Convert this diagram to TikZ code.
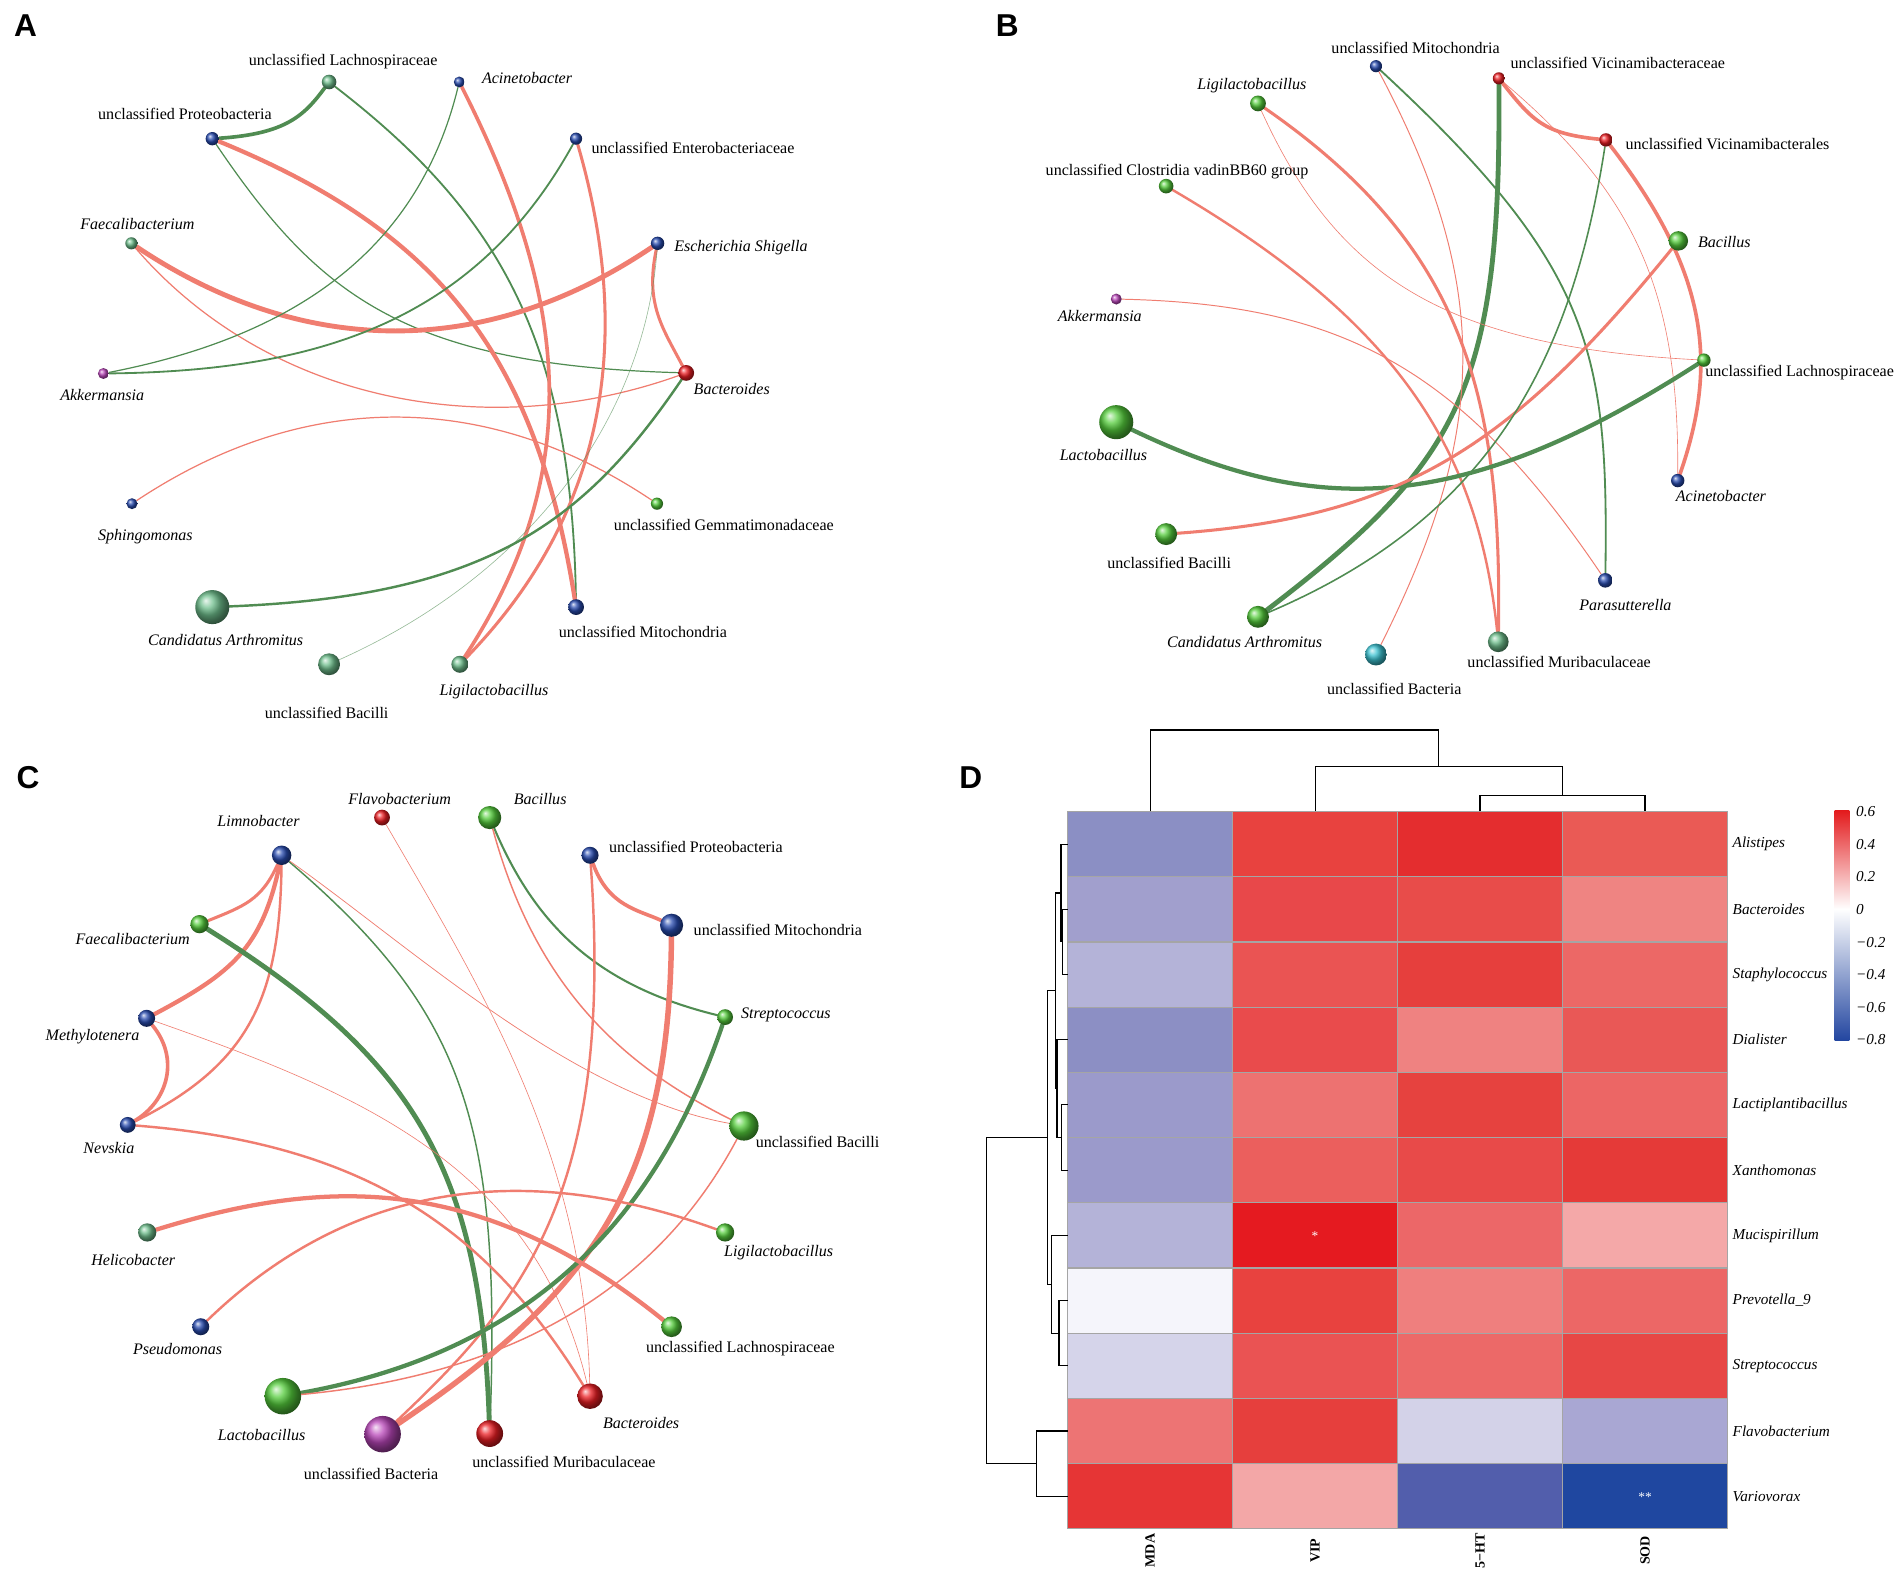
\documentclass[tikz,border=0pt]{standalone}
\usepackage{fontspec}
\setmainfont{Liberation Serif}
\newfontfamily\panelfont{Liberation Sans}
\usetikzlibrary{backgrounds}
\definecolor{ered}{RGB}{240,125,112}
\definecolor{egreen}{RGB}{80,140,82}
\definecolor{cblue}{RGB}{40,75,175}
\definecolor{csea}{RGB}{110,190,140}
\definecolor{cgreen}{RGB}{85,205,60}
\definecolor{cred}{RGB}{235,30,35}
\definecolor{cpurple}{RGB}{185,70,185}
\definecolor{ccyan}{RGB}{60,195,210}
\definecolor{gridgrey}{RGB}{165,165,165}
\definecolor{cbtop}{RGB}{227,26,28}
\definecolor{cbbot}{RGB}{35,70,160}
\begin{document}
\begin{tikzpicture}[x=1pt,y=-1pt,
  nblue/.style={circle,inner sep=0pt,minimum size=#1,ball color=cblue},
  nsea/.style={circle,inner sep=0pt,minimum size=#1,ball color=csea},
  ngreen/.style={circle,inner sep=0pt,minimum size=#1,ball color=cgreen},
  nred/.style={circle,inner sep=0pt,minimum size=#1,ball color=cred},
  npurple/.style={circle,inner sep=0pt,minimum size=#1,ball color=cpurple},
  ncyan/.style={circle,inner sep=0pt,minimum size=#1,ball color=ccyan},
  redge/.style={draw=ered,line width=#1,line cap=round},
  gedge/.style={draw=egreen,line width=#1,line cap=round},
  lab/.style={inner sep=0pt,font=\fontsize{13.2}{15}\selectfont},
  labi/.style={inner sep=0pt,font=\fontsize{13.2}{15}\selectfont\itshape},
  hlab/.style={inner sep=0pt,anchor=west,font=\fontsize{12.5}{14}\selectfont\itshape},
  clab/.style={inner sep=0pt,rotate=90,font=\fontsize{11.5}{13}\selectfont\bfseries},
  plab/.style={inner sep=0pt,font=\fontsize{26}{28}\selectfont\panelfont\bfseries},
  dendro/.style={draw=black,line width=0.9pt},
  cell/.style={draw=gridgrey,line width=1pt}
]
\useasboundingbox (0,0) rectangle (1565,1298);

% ---------------- panel letters
\node[plab] (pA) at (21,21) {A};
\node[plab] (pB) at (828,21) {B};
\node[plab] (pC) at (23,639) {C};
\node[plab] (pD) at (798,639) {D};

% ---------------- Panel A nodes
\node[nsea=12] (aLach) at (270.5,67.4) {};
\node[nblue=9] (aAcin) at (377.5,67.4) {};
\node[nblue=11] (aProt) at (174.5,114) {};
\node[nblue=10] (aEnt) at (473.5,114) {};
\node[nsea=10] (aFae) at (108,200) {};
\node[nblue=11] (aEsc) at (540.5,200) {};
\node[npurple=9] (aAkk) at (85,307) {};
\node[nred=13] (aBac) at (564,306.5) {};
\node[nblue=9] (aSph) at (108.5,414) {};
\node[ngreen=10] (aGem) at (540,414) {};
\node[nsea=28] (aCan) at (174.5,499) {};
\node[nblue=13] (aMit) at (473.5,499) {};
\node[nsea=18] (aBcl) at (270.5,546) {};
\node[nsea=14] (aLig) at (378,546) {};

\node[lab] (aLachL) at (282,50.6) {unclassified Lachnospiraceae};
\node[labi,anchor=west] (aAcinL) at (396,64) {Acinetobacter};
\node[lab] (aProtL) at (152,93.5) {unclassified Proteobacteria};
\node[lab,anchor=west] (aEntL) at (486,121.8) {unclassified Enterobacteriaceae};
\node[labi] (aFaeL) at (113,184) {Faecalibacterium};
\node[labi,anchor=west] (aEscL) at (554,203.4) {Escherichia Shigella};
\node[labi] (aAkkL) at (84,325) {Akkermansia};
\node[labi,anchor=west] (aBacL) at (570,319.5) {Bacteroides};
\node[labi] (aSphL) at (119.5,441.4) {Sphingomonas};
\node[lab] (aGemL) at (595,431.5) {unclassified Gemmatimonadaceae};
\node[labi] (aCanL) at (185.5,525.7) {Candidatus Arthromitus};
\node[lab] (aMitL) at (528.5,519) {unclassified Mitochondria};
\node[lab] (aBclL) at (268.5,586.2) {unclassified Bacilli};
\node[labi] (aLigL) at (406,568.2) {Ligilactobacillus};

% ---------------- Panel B nodes
\node[nblue=10] (bMit) at (1131,54.4) {};
\node[nred=10] (bVce) at (1232,64.4) {};
\node[ngreen=13] (bLig) at (1034,85) {};
\node[nred=11] (bVls) at (1320,115) {};
\node[ngreen=12] (bClo) at (958.5,153) {};
\node[ngreen=16] (bBcs) at (1379.5,198) {};
\node[npurple=9] (bAkk) at (917.5,245.8) {};
\node[ngreen=11] (bLac) at (1400.5,296) {};
\node[ngreen=28] (bLcb) at (917.5,347) {};
\node[nblue=11] (bAci) at (1379,395) {};
\node[ngreen=18] (bBcl) at (958.5,439) {};
\node[nblue=12] (bPar) at (1319.5,477) {};
\node[ngreen=18] (bCan) at (1034,507) {};
\node[ncyan=18] (bBct) at (1131,538) {};
\node[nsea=17] (bMur) at (1231.5,527.5) {};

\node[lab] (bMitL) at (1163.5,39) {unclassified Mitochondria};
\node[lab,anchor=west] (bVceL) at (1241.5,52) {unclassified Vicinamibacteraceae};
\node[labi] (bLigL) at (1029,70) {Ligilactobacillus};
\node[lab,anchor=west] (bVlsL) at (1336,118) {unclassified Vicinamibacterales};
\node[lab] (bCloL) at (967.5,140.7) {unclassified Clostridia vadinBB60 group};
\node[labi,anchor=west] (bBcsL) at (1395.5,199) {Bacillus};
\node[labi] (bAkkL) at (904,260) {Akkermansia};
\node[lab,anchor=west] (bLacL) at (1401.5,306) {unclassified Lachnospiraceae};
\node[labi] (bLcbL) at (907,374) {Lactobacillus};
\node[labi] (bAciL) at (1414.5,408) {Acinetobacter};
\node[lab] (bBclL) at (961,463) {unclassified Bacilli};
\node[labi] (bParL) at (1336,497) {Parasutterella};
\node[labi] (bCanL) at (1023,528) {Candidatus Arthromitus};
\node[lab] (bBctL) at (1146,566) {unclassified Bacteria};
\node[lab] (bMurL) at (1281.5,544) {unclassified Muribaculaceae};

% ---------------- Panel C nodes
\node[nred=13] (cFla) at (314,672) {};
\node[ngreen=19] (cBcs) at (402.5,672) {};
\node[nblue=16] (cLim) at (231.5,703) {};
\node[nblue=14] (cPro) at (485,703) {};
\node[ngreen=15] (cFae) at (164,759.6) {};
\node[nblue=19] (cMit) at (552,760.5) {};
\node[nblue=14] (cMet) at (120.5,837) {};
\node[ngreen=13] (cStr) at (596,836) {};
\node[nblue=13] (cNev) at (105,924.6) {};
\node[ngreen=24] (cBcl) at (611.5,925.5) {};
\node[nsea=15] (cHel) at (121,1013) {};
\node[ngreen=15] (cLig) at (596,1013) {};
\node[nblue=14] (cPse) at (165,1090.5) {};
\node[ngreen=17] (cLac) at (552,1090.5) {};
\node[ngreen=30] (cLcb) at (232.5,1147.6) {};
\node[npurple=30] (cBct) at (314.5,1178.8) {};
\node[nred=22] (cMur) at (402.5,1178.3) {};
\node[nred=21] (cBac) at (485,1147.6) {};

\node[labi] (cFlaL) at (328.5,656.6) {Flavobacterium};
\node[labi] (cBcsL) at (444,656.6) {Bacillus};
\node[labi] (cLimL) at (212.5,674.5) {Limnobacter};
\node[lab,anchor=west] (cProL) at (500.5,696.3) {unclassified Proteobacteria};
\node[labi] (cFaeL) at (109,771.7) {Faecalibacterium};
\node[lab,anchor=west] (cMitL) at (570,764.5) {unclassified Mitochondria};
\node[labi] (cMetL) at (76,852) {Methylotenera};
\node[labi,anchor=west] (cStrL) at (609,834.5) {Streptococcus};
\node[labi] (cNevL) at (89.5,943.8) {Nevskia};
\node[lab,anchor=west] (cBclL) at (621,939) {unclassified Bacilli};
\node[labi] (cHelL) at (109.5,1036) {Helicobacter};
\node[labi] (cLigL) at (640,1030) {Ligilactobacillus};
\node[labi] (cPseL) at (146,1108.8) {Pseudomonas};
\node[lab] (cLacL) at (608.5,1108.8) {unclassified Lachnospiraceae};
\node[labi] (cLcbL) at (215,1179.7) {Lactobacillus};
\node[lab] (cBctL) at (305,1211.8) {unclassified Bacteria};
\node[lab] (cMurL) at (463.5,1201.5) {unclassified Muribaculaceae};
\node[labi] (cBacL) at (527,1169.4) {Bacteroides};

% ---------------- Panel D heatmap
\foreach \r/\ca/\cb/\cc/\cd in {0/8B8FC4/E8423F/E42D2F/EA5A55, 1/A19FCD/E8484A/E84C4A/EF8482, 2/B4B3D8/EA5453/E63F3D/EC6866, 3/8C8FC4/E94B4C/EF8281/E95856, 4/9B9ACB/ED7271/E6423F/EC6665, 5/9B9ACB/EB5F5D/E84A49/E53A38, 6/B4B3D8/E51A20/EC6768/F4A8A8, 7/F5F5FB/E8423F/EF7F7E/EC6766, 8/D5D4EA/EA5353/EC6968/E74745, 9/ED7474/E63F3D/D3D2E8/A9A7D3, 10/E63535/F3A7A7/525EAC/1F47A0}{
  \definecolor{tca}{HTML}{\ca}
  \definecolor{tcb}{HTML}{\cb}
  \definecolor{tcc}{HTML}{\cc}
  \definecolor{tcd}{HTML}{\cd}
  \filldraw[cell,fill=tca] (877.5,{667+53.6*\r}) rectangle ++(135.6,53.6);
  \filldraw[cell,fill=tcb] (1013.1,{667+53.6*\r}) rectangle ++(135.6,53.6);
  \filldraw[cell,fill=tcc] (1148.7,{667+53.6*\r}) rectangle ++(135.6,53.6);
  \filldraw[cell,fill=tcd] (1284.3,{667+53.6*\r}) rectangle ++(135.6,53.6);
}
\node[inner sep=0pt,text=white,font=\fontsize{11}{12}\selectfont] (st1) at (1080.9,1016) {*};
\node[inner sep=0pt,text=white,font=\fontsize{11}{12}\selectfont] (st2) at (1352.1,1230.5) {**};

\foreach \i/\t in {0/Alistipes,1/Bacteroides,2/Staphylococcus,3/Dialister,4/Lactiplantibacillus,5/Xanthomonas,6/Mucispirillum,7/Prevotella\_9,8/Streptococcus,9/Flavobacterium,10/Variovorax}{
  \node[hlab] (hr\i) at (1424,{693.8+53.6*\i}) {\t};
}
\node[clab] (hcMDA) at (945.3,1274.5) {MDA};
\node[clab] (hcVIP) at (1080.9,1274.5) {VIP};
\node[clab] (hcHT) at (1216.5,1274.5) {5−HT};
\node[clab] (hcSOD) at (1352.1,1274.5) {SOD};

% top dendrogram
\draw[dendro] (945.3,667) -- (945.3,600) -- (1182.5,600) -- (1182.5,630);
\draw[dendro] (1080.9,667) -- (1080.9,630) -- (1284.3,630) -- (1284.3,653.5);
\draw[dendro] (1216.5,667) -- (1216.5,653.5) -- (1352.1,653.5) -- (1352.1,667);
% left dendrogram
\draw[dendro] (877.5,747.4) -- (873.4,747.4) -- (873.4,801) -- (877.5,801);
\draw[dendro] (877.5,693.8) -- (872.1,693.8) -- (872.1,774.2) -- (873.4,774.2);
\draw[dendro] (877.5,908.2) -- (872.6,908.2) -- (872.6,961.8) -- (877.5,961.8);
\draw[dendro] (877.5,854.6) -- (868.8,854.6) -- (868.8,935) -- (872.6,935);
\draw[dendro] (872.1,734) -- (867.7,734) -- (867.7,894.8) -- (868.8,894.8);
\draw[dendro] (877.5,1069) -- (870.4,1069) -- (870.4,1122.6) -- (877.5,1122.6);
\draw[dendro] (877.5,1015.4) -- (864.4,1015.4) -- (864.4,1095.8) -- (870.4,1095.8);
\draw[dendro] (867.7,814.4) -- (861.1,814.4) -- (861.1,1055.6) -- (864.4,1055.6);
\draw[dendro] (877.5,1176.2) -- (852.1,1176.2) -- (852.1,1229.8) -- (877.5,1229.8);
\draw[dendro] (861.1,935) -- (811,935) -- (811,1203) -- (852.1,1203);

% colour bar
\shade[top color=cbtop,bottom color=white] (1508,666) rectangle (1520,747.2);
\shade[top color=white,bottom color=cbbot] (1508,747.2) rectangle (1520,855);
\node[hlab] (cb1) at (1525.5,667) {0.6};
\node[hlab] (cb2) at (1525.5,694) {0.4};
\node[hlab] (cb3) at (1525.5,720.8) {0.2};
\node[hlab] (cb4) at (1525.5,747.2) {0};
\node[hlab] (cb5) at (1525.5,774.8) {−0.2};
\node[hlab] (cb6) at (1525.5,801) {−0.4};
\node[hlab] (cb7) at (1525.5,827.9) {−0.6};
\node[hlab] (cb8) at (1525.5,854.6) {−0.8};

\begin{pgfonlayer}{background}
\fill[white] (0,0) rectangle (1565,1298);
% ---- Panel A edges
\draw[gedge=3] (aProt) .. controls (235,110) and (250,95) .. (aLach);
\draw[gedge=1.5] (aLach) .. controls (410,175) and (470,280) .. (aMit);
\draw[gedge=1] (aProt) .. controls (260,240) and (330,300) .. (aBac);
\draw[redge=3.5] (aProt) .. controls (360,190) and (440,290) .. (aMit);
\draw[redge=3] (aAcin) .. controls (470,250) and (480,390) .. (aLig);
\draw[redge=2.5] (aEnt) .. controls (510,240) and (520,400) .. (aLig);
\draw[redge=4] (aFae) .. controls (250,295) and (400,295) .. (aEsc);
\draw[redge=1] (aFae) .. controls (220,330) and (400,365) .. (aBac);
\draw[redge=1] (aSph) .. controls (250,320) and (400,320) .. (aGem);
\draw[gedge=1] (aAkk) .. controls (250,275) and (345,200) .. (aAcin);
\draw[gedge=1.5] (aAkk) .. controls (260,305) and (390,265) .. (aEnt);
\draw[redge=2.5] (aEsc) .. controls (530,250) and (545,270) .. (aBac);
\draw[gedge=2] (aBac) .. controls (480,430) and (400,490) .. (aCan);
\draw[gedge=0.5,draw opacity=0.6] (aEsc) .. controls (530,340) and (440,470) .. (aBcl);
% ---- Panel B edges
\draw[redge=3] (bVce) .. controls (1260,100) and (1270,110) .. (bVls);
\draw[redge=3] (bVls) .. controls (1405,225) and (1412,300) .. (bAci);
\draw[redge=0.5] (bVce) .. controls (1345,160) and (1380,240) .. (bAci);
\draw[gedge=4] (bVce) .. controls (1234,320) and (1200,380) .. (bCan);
\draw[gedge=1.5] (bMit) .. controls (1310,220) and (1322,290) .. (bPar);
\draw[redge=0.8] (bMit) .. controls (1230,240) and (1220,360) .. (bBct);
\draw[redge=2.5] (bLig) .. controls (1200,200) and (1235,320) .. (bMur);
\draw[redge=0.5] (bLig) .. controls (1100,230) and (1190,285) .. (bLac);
\draw[redge=2] (bClo) .. controls (1150,265) and (1215,370) .. (bMur);
\draw[redge=0.8] (bAkk) .. controls (1100,250) and (1200,300) .. (bPar);
\draw[gedge=3.5] (bLcb) .. controls (1080,425) and (1200,425) .. (bLac);
\draw[redge=2.5] (bBcl) .. controls (1150,425) and (1240,370) .. (bBcs);
\draw[gedge=1.3] (bVls) .. controls (1290,310) and (1215,430) .. (bCan);
% ---- Panel C edges
\draw[redge=2.5] (cLim) .. controls (215,740) and (200,745) .. (cFae);
\draw[redge=3.5] (cLim) .. controls (215,780) and (190,800) .. (cMet);
\draw[redge=2] (cLim) .. controls (230,820) and (205,875) .. (cNev);
\draw[redge=3] (cMet) .. controls (148,870) and (138,905) .. (cNev);
\draw[gedge=1.2] (cLim) .. controls (380,830) and (412,920) .. (cMur);
\draw[redge=0.6] (cLim) .. controls (340,780) and (470,900) .. (cBcl);
\draw[gedge=4] (cFae) .. controls (340,870) and (395,960) .. (cMur);
\draw[redge=0.5] (cMet) .. controls (300,900) and (440,960) .. (cBac);
\draw[redge=2] (cNev) .. controls (300,940) and (400,1010) .. (cBac);
\draw[redge=0.5] (cFla) .. controls (400,820) and (480,950) .. (cBac);
\draw[gedge=1.7] (cBcs) .. controls (440,760) and (490,810) .. (cStr);
\draw[redge=1.2] (cBcs) .. controls (440,810) and (510,875) .. (cBcl);
\draw[redge=3] (cPro) .. controls (500,745) and (525,748) .. (cMit);
\draw[redge=2] (cPro) .. controls (505,980) and (430,1070) .. (cBct);
\draw[redge=4.5] (cMit) .. controls (550,970) and (490,1060) .. (cBct);
\draw[gedge=3.5] (cStr) .. controls (540,1000) and (440,1110) .. (cLcb);
\draw[redge=1.2] (cBcl) .. controls (540,1060) and (420,1130) .. (cLcb);
\draw[redge=3.5] (cHel) .. controls (260,970) and (390,960) .. (cLac);
\draw[redge=2] (cPse) .. controls (300,960) and (450,960) .. (cLig);
\end{pgfonlayer}
\end{tikzpicture}
\end{document}
